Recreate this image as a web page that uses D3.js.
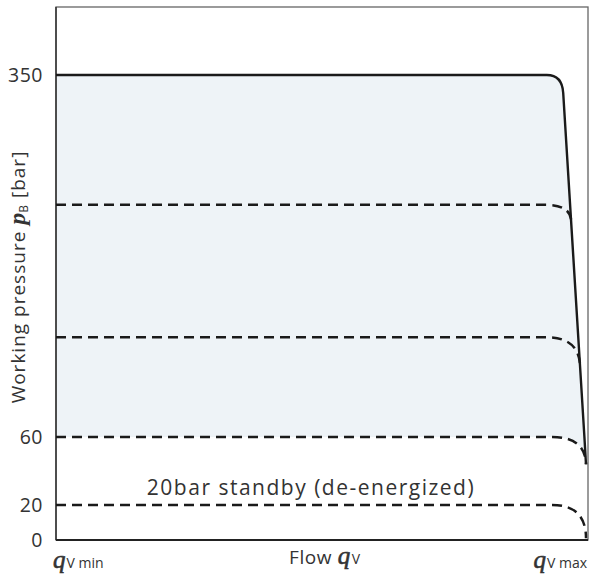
<!DOCTYPE html>
<html><head><meta charset="utf-8">
<script src="https://cdn.jsdelivr.net/npm/d3@7/dist/d3.min.js"></script>
<style>body{margin:0;background:#fff}svg{display:block}</style>
</head><body>
<svg id="chart" width="591" height="577"></svg>
<script>
// ---- data ----
const pressureTicks = [0, 20, 60, 350];
const flowLabels = ["min", "max"];
// curve points: [flow %, pressure bar, 'c' = corner control point]
const maxPressure = [[0,350],[92.6,350],[95.5,350,'c'],[95.7,335.6],[99.7,60],[100,44]];
const setting246 = [[0,246],[92.3,246],[97.3,246,'c'],[97.2,232]];
const setting140 = [[0,140],[92.5,140],[98.9,140,'c'],[98.9,115]];
const setting60  = [[0,60],[93.6,60],[99.9,60,'c'],[100,44]];
const standby20  = [[0,20],[93.6,20],[100,20,'c'],[100,1]];
const dashedCurves = [setting246, setting140, setting60, standby20];
const standbyText = "20bar standby (de-energized)";

// ---- scales ----
const svg = d3.select("#chart");
const x = d3.scaleLinear().domain([0, 100]).range([56, 586]);
const y = d3.scaleLinear().domain([0, 20, 60, 350, 404]).range([540, 505, 437, 75, 7]);

function buildPath(pts) {
  const p = d3.path();
  p.moveTo(x(pts[0][0]), y(pts[0][1]));
  for (let i = 1; i < pts.length; i++) {
    const q = pts[i];
    if (q[2] === 'c') {
      const e = pts[i + 1];
      p.quadraticCurveTo(x(q[0]), y(q[1]), x(e[0]), y(e[1]));
      i++;
    } else {
      p.lineTo(x(q[0]), y(q[1]));
    }
  }
  return p;
}

// fill area: under max curve, above 60 bar curve
const fillPts = maxPressure.concat(setting60.slice().reverse().slice(1));
const fp = buildPath(fillPts); fp.closePath();
svg.append("path").attr("d", fp.toString()).attr("fill", "#eef3f7");

// frame
svg.append("rect").attr("x", 56).attr("y", 7).attr("width", 532).attr("height", 533)
  .attr("fill", "none").attr("stroke", "#666").attr("stroke-width", 1.3);
svg.append("line").attr("x1", 56).attr("x2", 56).attr("y1", 7).attr("y2", 540)
  .attr("stroke", "#333").attr("stroke-width", 1.5);
svg.append("line").attr("x1", 56).attr("x2", 588).attr("y1", y(0)).attr("y2", y(0))
  .attr("stroke", "#222").attr("stroke-width", 1.8);

// dashed curves
dashedCurves.forEach(c => {
  svg.append("path").attr("d", buildPath(c).toString())
    .attr("fill", "none").attr("stroke", "#1a1a1a").attr("stroke-width", 2.5)
    .attr("stroke-dasharray", "10,6");
});
// max curve
svg.append("path").attr("d", buildPath(maxPressure).toString())
  .attr("fill", "none").attr("stroke", "#1a1a1a").attr("stroke-width", 2.4)
  .attr("stroke-linejoin", "round");

// y tick labels
const font = "'Open Sans', 'Noto Sans', sans-serif";
const serif = "'Liberation Serif', 'DejaVu Serif', serif";
svg.append("g").selectAll("text").data(pressureTicks).join("text")
  .attr("x", 43).attr("y", d => y(d) + 7)
  .attr("text-anchor", "end").attr("font-family", font).attr("font-size", 19.5)
  .attr("letter-spacing", 0.5).attr("fill", "#333").text(d => d);

// standby label
svg.append("text").attr("x", 311).attr("y", 495).attr("text-anchor", "middle")
  .attr("font-family", font).attr("font-size", 21).attr("letter-spacing", 1.5)
  .attr("fill", "#333").text(standbyText);

// y axis title
const yt = svg.append("text").attr("transform", "translate(25,277) rotate(-90)")
  .attr("text-anchor", "middle").attr("font-family", font).attr("font-size", 19)
  .attr("letter-spacing", 1).attr("fill", "#333");
yt.append("tspan").text("Working pressure ");
yt.append("tspan").attr("font-family", serif).attr("font-style", "italic")
  .attr("font-weight", "bold").attr("font-size", 24).attr("letter-spacing", 0).text("p");
yt.append("tspan").attr("font-size", 12).attr("dy", 3).text("B");
yt.append("tspan").attr("dy", -3).text(" [bar]");

// x labels
function qLabel(sel, sub) {
  sel.append("tspan").attr("font-family", serif).attr("font-style", "italic")
    .attr("font-size", 25).attr("stroke", "#333").attr("stroke-width", 0.6).text("q");
  sel.append("tspan").attr("font-size", 14).attr("dx", 1).text(sub);
}
const xl0 = svg.append("text").attr("x", 53).attr("y", 568).attr("font-family", font).attr("fill", "#333");
qLabel(xl0, "V " + flowLabels[0]);
const xl1 = svg.append("text").attr("x", 587).attr("y", 568).attr("text-anchor", "end")
  .attr("font-family", font).attr("fill", "#333");
qLabel(xl1, "V " + flowLabels[1]);
const xf = svg.append("text").attr("x", 289).attr("y", 564).attr("font-family", font)
  .attr("font-size", 19).attr("letter-spacing", 0.6).attr("fill", "#333");
xf.append("tspan").text("Flow ");
qLabel(xf, "V");
</script>
</body></html>
